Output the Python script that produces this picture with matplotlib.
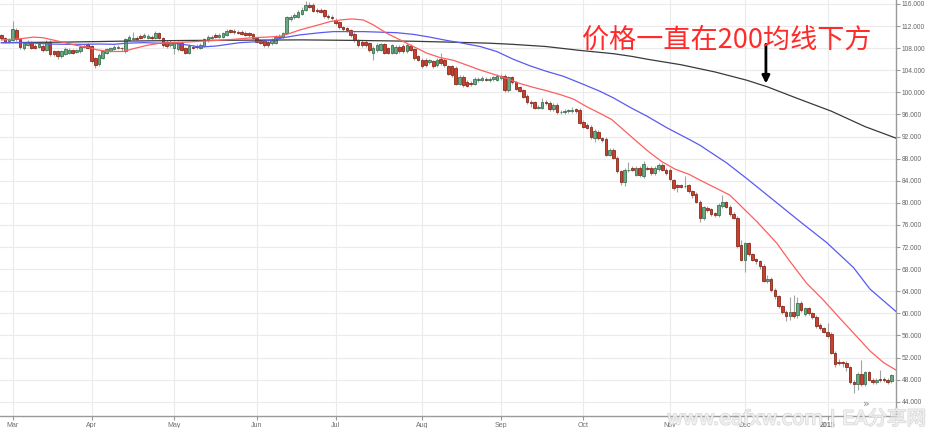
import numpy as np
import matplotlib.pyplot as plt
import matplotlib.patheffects as pe

# daily candles, Feb 26 2014 .. Jan 27 2015 (weekdays)
opens = [
    110.3, 109.8, 109.3, 109.5, 111.3, 109.6, 108.0, 108.6, 109.1, 108.4,
    108.3, 108.4, 107.7, 109.2, 107.4, 107.4, 106.5, 106.9, 107.2, 107.7,
    107.3, 107.4, 108.3, 108.7, 108.4, 106.2, 105.1, 106.3, 107.1, 107.5,
    107.9, 108.0, 108.0, 107.4, 109.5, 109.6, 109.9, 110.2, 110.1, 109.9,
    110.1, 109.8, 110.8, 109.8, 109.2, 108.6, 108.0, 107.8, 109.0, 108.0,
    107.2, 108.3, 108.4, 108.0, 108.4, 109.4, 109.8, 110.4, 110.1, 110.1,
    110.4, 111.2, 111.1, 111.0, 110.9, 110.8, 110.7, 110.5, 109.8, 109.4,
    109.4, 109.2, 108.9, 109.0, 110.0, 110.1, 110.7, 113.3, 113.6, 113.7,
    114.2, 114.9, 115.8, 115.8, 115.0, 114.9, 114.9, 113.8, 113.7, 113.1,
    112.8, 111.8, 111.6, 111.2, 110.6, 109.4, 109.2, 109.2, 108.9, 107.2,
    107.6, 107.7, 108.7, 108.0, 107.2, 107.2, 108.3, 108.4, 107.4, 108.4,
    107.8, 106.5, 105.9, 105.9, 105.5, 105.6, 104.9, 106.0, 105.9, 104.7,
    104.7, 104.4, 101.6, 102.8, 101.9, 101.7, 101.6, 102.2, 102.3, 102.5,
    102.2, 102.4, 102.3, 102.6, 103.0, 100.4, 102.7, 101.8, 100.9, 100.4,
    99.4, 98.3, 98.2, 97.2, 97.2, 98.3, 98.1, 97.0, 97.7, 96.4,
    96.5, 96.6, 96.7, 96.9, 96.8, 94.7, 94.1, 93.8, 91.8, 92.9,
    91.7, 91.6, 88.7, 89.6, 88.2, 85.7, 83.8, 85.9, 86.3, 85.1,
    86.3, 84.8, 86.4, 86.3, 85.4, 86.1, 86.9, 86.0, 86.0, 84.1,
    83.2, 83.2, 83.0, 83.2, 82.1, 81.6, 80.2, 77.2, 79.1, 78.8,
    78.1, 77.8, 79.4, 80.1, 79.3, 78.0, 77.3, 72.4, 69.7, 72.7,
    70.7, 69.8, 69.4, 68.6, 65.9, 66.3, 64.3, 63.1, 61.3, 60.3,
    59.5, 60.3, 59.7, 61.8, 59.8, 60.9, 60.0, 59.4, 57.9, 57.3,
    56.7, 56.3, 52.8, 51.0, 51.0, 51.0, 50.2, 47.6, 47.2, 49.0,
    47.2, 49.3, 48.0, 47.6, 48.2, 48.2, 48.0, 47.7,
]
highs = [
    110.6, 110.1, 109.9, 113.0, 111.6, 109.9, 109.2, 109.5, 109.3, 108.7,
    109.0, 108.7, 109.5, 109.4, 107.7, 107.6, 107.7, 108.2, 108.0, 107.9,
    107.9, 108.6, 108.8, 109.0, 108.6, 106.4, 107.1, 107.7, 108.1, 108.3,
    108.6, 108.6, 108.3, 109.9, 110.4, 110.9, 110.2, 110.5, 110.7, 110.5,
    110.4, 111.1, 111.0, 110.0, 109.4, 109.5, 109.3, 109.3, 109.3, 108.3,
    108.7, 108.6, 108.7, 108.9, 109.9, 110.4, 110.4, 110.7, 110.7, 111.0,
    111.4, 111.5, 111.4, 111.3, 111.2, 111.1, 111.0, 110.8, 110.1, 109.7,
    109.6, 109.5, 109.8, 110.4, 110.5, 111.0, 113.9, 114.0, 114.4, 115.0,
    115.4, 116.5, 116.4, 116.1, 115.3, 115.2, 115.1, 114.1, 114.0, 113.4,
    113.0, 112.1, 111.9, 111.5, 110.9, 109.7, 109.5, 109.5, 109.2, 108.4,
    108.9, 109.0, 109.0, 108.3, 108.8, 108.6, 108.6, 108.7, 108.9, 108.7,
    108.1, 106.8, 106.2, 106.2, 106.1, 105.9, 106.2, 107.1, 106.2, 105.0,
    105.0, 104.7, 103.1, 103.1, 102.2, 102.0, 102.7, 102.8, 102.9, 102.8,
    102.8, 103.0, 103.3, 103.3, 103.3, 103.0, 103.0, 102.1, 101.2, 100.7,
    99.7, 98.6, 98.5, 97.7, 98.9, 98.6, 98.4, 98.0, 98.0, 96.8,
    97.0, 97.0, 97.4, 97.2, 97.1, 95.0, 94.4, 94.1, 93.3, 93.2,
    92.0, 91.9, 89.9, 89.9, 88.5, 86.0, 86.3, 87.4, 86.6, 86.6,
    86.6, 87.5, 86.7, 86.6, 86.6, 87.3, 87.2, 86.3, 86.3, 84.4,
    83.5, 83.5, 84.9, 83.5, 82.4, 81.9, 80.5, 79.5, 79.4, 79.1,
    78.4, 79.9, 81.4, 80.4, 79.6, 78.3, 77.6, 73.3, 73.0, 73.0,
    71.0, 70.1, 69.7, 68.9, 67.0, 66.6, 64.6, 63.4, 61.6, 60.6,
    63.0, 63.3, 63.0, 62.3, 61.2, 61.2, 60.3, 59.7, 58.2, 57.6,
    58.3, 56.6, 53.1, 51.8, 51.3, 51.3, 50.5, 47.9, 49.3, 51.5,
    49.6, 49.6, 48.3, 48.3, 49.7, 48.5, 48.3, 49.1,
]
lows = [
    109.5, 109.0, 109.0, 109.3, 109.3, 107.9, 107.7, 108.4, 107.8, 107.8,
    108.0, 107.3, 107.5, 106.6, 106.6, 106.1, 106.2, 106.7, 107.0, 106.9,
    107.1, 107.2, 108.0, 107.9, 105.3, 104.4, 104.8, 106.0, 106.9, 107.3,
    107.6, 107.8, 107.5, 107.2, 109.3, 109.4, 109.5, 109.6, 109.9, 109.7,
    109.5, 109.6, 109.6, 108.2, 108.1, 108.3, 107.0, 107.4, 107.4, 106.9,
    107.0, 107.8, 107.9, 107.8, 108.2, 109.2, 109.6, 109.8, 109.9, 109.9,
    110.2, 110.7, 110.6, 110.5, 110.3, 110.2, 110.1, 109.6, 108.9, 108.7,
    108.3, 108.3, 108.6, 108.8, 109.8, 109.9, 110.5, 112.9, 113.3, 113.5,
    114.0, 114.7, 115.2, 114.5, 114.4, 114.3, 113.5, 113.3, 113.1, 112.2,
    111.5, 111.1, 111.0, 110.1, 109.2, 108.2, 108.3, 108.2, 107.3, 105.9,
    107.3, 107.4, 106.9, 106.9, 106.9, 106.9, 107.1, 107.1, 107.1, 107.4,
    105.9, 105.6, 104.5, 104.6, 105.2, 104.5, 104.6, 105.0, 104.6, 103.1,
    102.8, 101.3, 101.3, 100.9, 100.9, 101.1, 101.3, 101.9, 102.0, 102.0,
    101.9, 102.1, 102.0, 102.3, 100.1, 100.1, 101.5, 100.4, 100.0, 98.9,
    97.9, 97.4, 96.9, 96.9, 96.9, 97.8, 96.7, 96.7, 96.1, 96.0,
    96.1, 96.2, 96.3, 96.3, 94.2, 93.5, 93.3, 91.6, 91.1, 91.4,
    91.0, 88.4, 88.4, 87.9, 85.4, 83.2, 83.0, 85.6, 85.7, 84.8,
    84.7, 84.5, 85.9, 85.1, 85.1, 85.8, 85.7, 85.1, 84.0, 82.4,
    82.0, 82.6, 82.7, 81.8, 80.9, 79.9, 76.5, 76.9, 78.4, 77.7,
    77.4, 77.5, 79.1, 79.0, 77.7, 77.0, 71.9, 69.4, 67.5, 70.4,
    69.4, 69.0, 68.0, 65.6, 65.5, 63.8, 62.6, 60.9, 59.9, 58.6,
    58.8, 59.1, 59.2, 60.3, 59.5, 59.7, 59.0, 57.4, 57.0, 56.4,
    55.6, 52.6, 50.3, 50.6, 50.2, 49.6, 47.2, 45.6, 46.2, 46.9,
    46.9, 47.7, 47.2, 47.3, 47.6, 47.6, 47.2, 47.4,
]
closes = [
    109.8, 109.2, 109.6, 111.5, 109.6, 108.2, 108.9, 109.2, 108.1, 108.1,
    108.7, 107.6, 109.2, 106.9, 106.9, 106.5, 107.4, 107.9, 107.7, 107.2,
    107.6, 108.3, 108.4, 108.1, 105.6, 104.9, 106.8, 107.4, 107.8, 108.0,
    108.3, 108.3, 107.9, 109.6, 110.0, 109.9, 109.7, 109.8, 110.4, 110.2,
    109.8, 110.8, 109.9, 108.5, 108.4, 109.2, 109.0, 109.0, 107.7, 107.2,
    108.4, 108.0, 108.2, 108.6, 109.6, 110.1, 110.1, 110.0, 110.4, 110.7,
    111.1, 110.9, 110.9, 110.7, 110.5, 110.4, 110.4, 109.8, 109.2, 109.0,
    108.6, 108.6, 109.5, 110.1, 110.2, 110.7, 113.6, 113.6, 114.0, 114.6,
    115.0, 115.8, 115.5, 114.8, 114.7, 114.6, 113.8, 113.6, 113.4, 112.5,
    111.8, 111.4, 111.3, 110.4, 109.5, 108.5, 108.6, 108.5, 107.6, 108.1,
    108.6, 108.7, 107.2, 107.2, 108.5, 108.3, 107.4, 107.4, 108.6, 107.7,
    106.2, 105.9, 104.8, 104.9, 105.8, 104.8, 105.9, 105.3, 104.9, 103.4,
    103.1, 101.6, 102.8, 101.3, 101.2, 101.5, 102.4, 102.5, 102.6, 102.3,
    102.5, 102.7, 103.0, 103.0, 100.4, 102.7, 101.8, 100.7, 100.3, 99.2,
    98.2, 98.0, 97.2, 97.4, 98.3, 98.1, 97.0, 97.7, 96.4, 96.5,
    96.6, 96.7, 96.8, 96.6, 94.5, 93.8, 93.6, 91.9, 93.0, 91.7,
    91.4, 88.7, 89.6, 88.2, 85.7, 83.7, 86.0, 86.0, 86.0, 86.3,
    85.1, 87.0, 86.2, 85.4, 86.3, 86.9, 86.0, 85.4, 84.3, 82.7,
    82.8, 82.9, 83.1, 82.1, 81.5, 80.2, 77.2, 79.2, 78.7, 78.0,
    77.8, 79.6, 80.2, 79.3, 78.0, 77.3, 72.2, 69.7, 72.7, 70.7,
    69.7, 69.4, 68.5, 65.9, 66.3, 64.3, 63.1, 61.3, 60.3, 59.5,
    60.3, 59.5, 61.8, 60.6, 60.9, 60.0, 59.4, 57.7, 57.4, 56.7,
    55.9, 52.9, 50.9, 50.9, 50.9, 50.2, 47.5, 47.2, 49.0, 47.2,
    49.3, 48.0, 47.5, 48.0, 47.9, 47.9, 47.6, 48.8,
]

# moving averages (bar index, price)
ma_fast_x = [0, 3, 5, 8.5, 11, 15.6, 20, 22.7, 25.4, 28.9, 32.5, 35.1, 38.7, 42.2,
             45.8, 49.3, 52.9, 57.3, 61.8, 67.1, 70.6, 74.2, 76.9, 79.5, 82.2,
             84.9, 87.5, 90.2, 93.3, 96.4, 99.1, 102.6, 106.2, 109.7, 113.3,
             116.8, 120.4, 123.9, 127.5, 131, 134.6, 138.1, 141.7, 145.2, 148.8,
             152.3, 155.9, 159.4, 162.5, 165.2, 168.7, 172.3, 175.8, 179.4, 183,
             186.1, 190.5, 194, 197.6, 201.2, 206.5, 210, 214.5, 218.9, 223.3,
             227.8, 231.3, 234.9, 238.3]
ma_fast_y = [109.5, 109.6, 109.7, 110.0, 109.9, 109.2, 108.5, 108.2, 107.7, 107.4,
             107.4, 107.9, 108.5, 108.9, 109.0, 109.1, 109.25, 109.4, 109.6, 109.9,
             110.0, 110.15, 110.7, 111.3, 111.8, 112.3, 112.8, 113.1, 113.3, 113.1,
             112.2, 110.7, 109.5, 108.3, 107.1, 106.3, 105.8, 104.95, 104.05, 103.3,
             102.5, 101.6, 100.9, 100.3, 99.6, 98.8, 97.4, 96.2, 95.1, 93.5,
             91.4, 89.3, 87.5, 86.1, 85.2, 84.1, 82.6, 81.4, 79.0, 76.6,
             72.7, 69.4, 65.4, 62.4, 59.1, 55.8, 53.2, 51.1, 49.7]
ma_mid_x = [0, 5, 9, 13, 17.4, 22, 26.3, 30, 33.4, 37.8, 42.2, 45.8, 49.3, 53,
            57.3, 63.5, 68.9, 72.4, 75.1, 79.5, 84.9, 88.4, 92, 96.4, 100.8,
            105.3, 109.7, 114.1, 118.6, 122.1, 127.5, 131.9, 136.3, 140.8, 145.2,
            149.7, 154.1, 159.4, 163, 167.4, 171.9, 177.2, 183.4, 186.1, 193.2,
            198.5, 205.6, 212.7, 219.8, 226.9, 231.3, 238.3]
ma_mid_y = [109.0, 109.0, 108.9, 108.75, 108.7, 108.7, 108.75, 108.7, 108.9, 109.0,
            108.9, 108.9, 108.6, 108.2, 108.4, 109.0, 109.2, 109.5, 109.9, 110.4,
            110.8, 111.0, 111.0, 111.0, 110.9, 110.8, 110.5, 110.0, 109.4, 109.0,
            108.3, 107.4, 106.0, 104.8, 103.8, 102.9, 101.7, 100.2, 99.0, 97.3,
            95.7, 93.6, 91.4, 90.4, 87.2, 84.4, 80.5, 76.6, 72.8, 68.3,
            64.4, 60.3]
ma_slow_x = [0, 17, 35, 50, 65, 80, 95, 110, 122, 130, 136, 145, 154, 163, 168,
             172, 181, 190, 198.5, 204, 212, 221, 230, 238.3]
ma_slow_y = [109.0, 109.1, 109.3, 109.4, 109.45, 109.5, 109.4, 109.25, 109.05, 108.9,
             108.7, 108.3, 107.6, 107.0, 106.5, 106.0, 105.0, 103.7, 102.2, 101.0,
             98.9, 96.6, 93.8, 91.7]

month_pos = [3, 24, 46, 68, 89, 112, 133, 155, 178, 198, 220]
month_labels = ["Mar", "Apr", "May", "Jun", "Jul", "Aug", "Sep", "Oct", "Nov", "Dec", "2015"]
price_ticks = list(range(44, 117, 4))

note_text = "价格一直在200均线下方"
watermark = "www.eafxw.com | EA分享网"

up_face, up_edge = "#6BA884", "#3C7352"
dn_face, dn_edge = "#C8412F", "#8A2A1D"

fig = plt.figure(figsize=(9.26, 4.28), dpi=100, facecolor="white")
ax = fig.add_axes([0, 12 / 428, 896 / 926, 416 / 428])
ax.set_facecolor("white")

o = np.array(opens)
c = np.array(closes)
idx = np.arange(len(o))
up = c >= o
body = c - o
body = np.where(np.abs(body) < 0.12, 0.12, body)

ax.vlines(idx, lows, highs, color="#A3A3A3", lw=0.8, zorder=2)
ax.bar(idx, body, bottom=o, width=0.68,
       color=np.where(up, up_face, dn_face),
       edgecolor=np.where(up, up_edge, dn_edge), linewidth=0.6, zorder=3)

ax.plot(ma_slow_x, ma_slow_y, color="#3A3A3A", lw=0.9, zorder=4)
ax.plot(ma_mid_x, ma_mid_y, color="#5A5AF0", lw=0.9, zorder=4)
ax.plot(ma_fast_x, ma_fast_y, color="#FF5E5E", lw=0.9, zorder=4)

ax.set_xlim(-0.37, 238.24)
ax.set_ylim(41.42, 116.72)

ax.set_xticks(month_pos)
ax.set_xticklabels(month_labels)
ax.set_yticks(price_ticks)
ax.set_yticklabels([f"{v:.3f}" for v in price_ticks])
ax.yaxis.tick_right()
ax.tick_params(axis="x", colors="#999999", labelcolor="#6E6E6E", labelsize=5,
               length=3, width=0.8, pad=1.5)
ax.tick_params(axis="y", colors="#999999", labelcolor="#666666", labelsize=4.8,
               length=3, width=0.8, pad=1)
for lab in ax.get_xticklabels() + ax.get_yticklabels():
    lab.set_fontfamily("Liberation Sans")
    if lab.get_text() == "2015":
        lab.set_fontweight("bold")
ax.grid(True, color="#EBEBEB", lw=0.8, zorder=0)
ax.set_axisbelow(True)

for s in ["top", "left"]:
    ax.spines[s].set_visible(False)
for s in ["bottom", "right"]:
    ax.spines[s].set_color("#9A9A9A")
    ax.spines[s].set_linewidth(1.0)

# annotation: red note and black arrow down to the 200 line
fig.text(582 / 926, 1 - 40.5 / 428, note_text, color="#FF2B2B", fontsize=19.5,
         ha="left", va="center", family=["Noto Sans CJK SC", "DejaVu Sans"])
ax.annotate("", xy=(203.6, 101.6), xytext=(203.6, 108.7),
            arrowprops=dict(arrowstyle="-|>", color="black", lw=2,
                            mutation_scale=11, shrinkA=0, shrinkB=0),
            zorder=6)

# scroll button and semi-transparent watermark over the axis
fig.text(866 / 926, 1 - 404 / 428, "»", color="#8A8A8A", fontsize=8,
         ha="center", va="center")
fig.text(667 / 926, 3.5 / 428, watermark, color="white", fontsize=14,
         ha="left", va="baseline", alpha=0.6,
         family=["DejaVu Sans", "Noto Sans CJK SC"],
         path_effects=[pe.withStroke(linewidth=1.2, foreground="#C4C4C4")])

fig.savefig("out.png", dpi=100, facecolor="white")
